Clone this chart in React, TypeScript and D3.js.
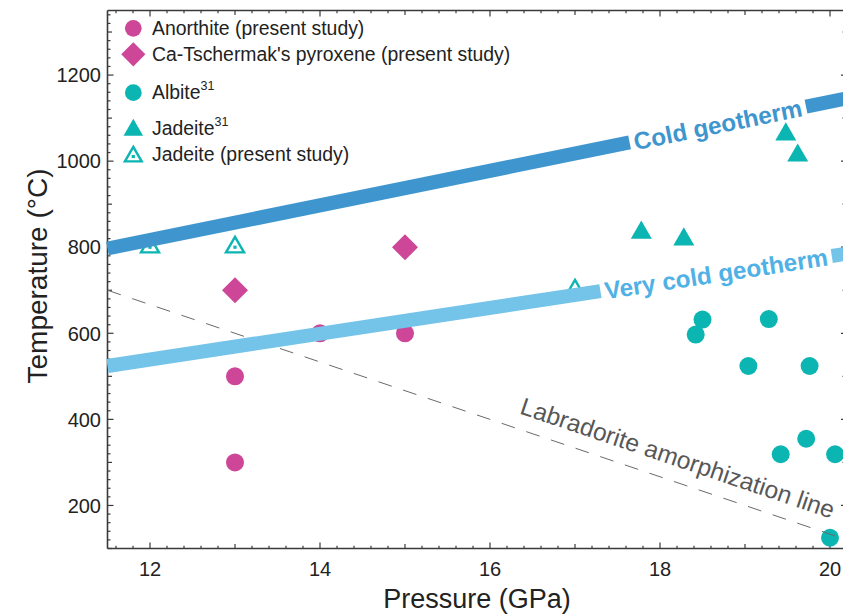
import React from "react";
import * as d3 from "d3";

// ---------- data ----------
const anorthite: [number, number][] = [[13, 300], [13, 500], [14, 600], [15, 600]];
const caTschermak: [number, number][] = [[13, 700], [15, 800]];
const albite: [number, number][] = [
  [18.5, 632], [18.42, 597], [19.28, 633], [19.04, 524], [19.76, 524],
  [19.72, 355], [19.42, 319], [20.06, 319], [20.0, 125],
];
const jadeite31: [number, number][] = [[17.78, 834], [18.28, 818], [19.48, 1062], [19.62, 1013]];
const jadeitePresent: [number, number][] = [[12, 800], [13, 800], [17, 700]];

const coldGeotherm: [number, number][] = [[11.5, 797], [20.2, 1146]];
const veryColdGeotherm: [number, number][] = [[11.5, 524], [20.2, 785]];
const labradoriteLine: [number, number][] = [[11.5, 700], [20.2, 120]];

const xTicks = [12, 14, 16, 18, 20];
const yTicks = [200, 400, 600, 800, 1000, 1200];

const legendItems = [
  { key: "anorthite", label: "Anorthite (present study)", sup: "" },
  { key: "cats", label: "Ca-Tschermak's pyroxene (present study)", sup: "" },
  { key: "albite", label: "Albite", sup: "31" },
  { key: "jad31", label: "Jadeite", sup: "31" },
  { key: "jadp", label: "Jadeite (present study)", sup: "" },
];

// ---------- style ----------
const W = 843, H = 614;
const MAGENTA = "#CD4698";
const TEAL = "#0BB5B1";
const COLD = "#3F96CE";
const VCOLD = "#74C4EA";
const VCOLD_TEXT = "#4FB1E5";
const AXIS = "#3a3a3a";
const FONT = "'Liberation Sans', Arial, Helvetica, sans-serif";

const x = d3.scaleLinear().domain([11.5, 20.2]).range([107.5, 847]);
const y = d3.scaleLinear().domain([100, 1350]).range([548.5, 10.5]);

const triPath = (side: number) => {
  const h = (side * Math.sqrt(3)) / 2;
  const p = d3.path();
  p.moveTo(0, (-2 * h) / 3);
  p.lineTo(side / 2, h / 3);
  p.lineTo(-side / 2, h / 3);
  p.closePath();
  return p.toString();
};
const diamondPath = (r: number) => {
  const p = d3.path();
  p.moveTo(0, -r);
  p.lineTo(r, 0);
  p.lineTo(0, r);
  p.lineTo(-r, 0);
  p.closePath();
  return p.toString();
};

function Marker({ kind, cx, cy, s = 1 }: { kind: string; cx: number; cy: number; s?: number }) {
  const t = `translate(${cx},${cy})`;
  if (kind === "anorthite") return <circle cx={cx} cy={cy} r={9 * s} fill={MAGENTA} />;
  if (kind === "albite") return <circle cx={cx} cy={cy} r={9 * s} fill={TEAL} />;
  if (kind === "cats") return <path transform={t} d={diamondPath(13 * s)} fill={MAGENTA} />;
  if (kind === "jad31") return <path transform={t} d={triPath(21 * s)} fill={TEAL} />;
  return (
    <g transform={t}>
      <path d={triPath(18 * s)} fill="white" stroke={TEAL} strokeWidth={2.4} strokeLinejoin="miter" />
      <rect x={-1.6} y={-1.6} width={3.2} height={3.2} fill={TEAL} />
    </g>
  );
}

function Band({ line, color, textColor, label, labelP, halfGap, width }: any) {
  const p0: [number, number] = [x(line[0][0]), y(line[0][1])];
  const p1: [number, number] = [x(line[1][0]), y(line[1][1])];
  const tAt = d3.scaleLinear().domain([line[0][0], line[1][0]]).range([line[0][1], line[1][1]]);
  const pc: [number, number] = [x(labelP), y(tAt(labelP))];
  const dx = p1[0] - p0[0], dy = p1[1] - p0[1];
  const len = Math.hypot(dx, dy);
  const ux = dx / len, uy = dy / len;
  const a = (Math.atan2(dy, dx) * 180) / Math.PI;
  const g1: [number, number] = [pc[0] - ux * halfGap, pc[1] - uy * halfGap];
  const g2: [number, number] = [pc[0] + ux * halfGap, pc[1] + uy * halfGap];
  const lg = d3.line();
  return (
    <g>
      <path d={lg([p0, g1]) as string} stroke={color} strokeWidth={width} fill="none" />
      <path d={lg([g2, p1]) as string} stroke={color} strokeWidth={width} fill="none" />
      <text
        transform={`translate(${pc[0]},${pc[1]}) rotate(${a})`}
        textAnchor="middle"
        dy="0.36em"
        fontFamily={FONT}
        fontWeight="bold"
        fontSize={24.3}
        fill={textColor}
      >
        {label}
      </text>
    </g>
  );
}

export default function App() {
  const xMinor = d3.range(116, 203, 2).map((v) => v / 10);
  const yMinor = d3.range(100, 1351, 20);
  const xLen = (v: number) => {
    const r = Math.round(v * 10);
    if (r % 20 === 0) return 6;
    if (r % 10 === 0) return 4.5;
    return 2.8;
  };
  const yLen = (v: number) => (v % 200 === 0 ? 6 : v % 100 === 0 ? 4.5 : 3);
  const [xl, xr] = x.range();
  const [yb, yt] = y.range();

  const lab0: [number, number] = [x(labradoriteLine[0][0]), y(labradoriteLine[0][1])];
  const lab1: [number, number] = [x(labradoriteLine[1][0]), y(labradoriteLine[1][1])];
  const labAngle = (Math.atan2(lab1[1] - lab0[1], lab1[0] - lab0[0]) * 180) / Math.PI;
  const labT = d3.scaleLinear().domain([labradoriteLine[0][0], labradoriteLine[1][0]]).range([labradoriteLine[0][1], labradoriteLine[1][1]]);
  const labP = 18.12;

  const legendY = [28.3, 54.3, 92.7, 130, 156.5];
  const legendBase = [34.5, 61, 99, 134.5, 160.7];

  return (
    <svg width={W} height={H} style={{ position: "absolute", left: 0, top: 0, display: "block", background: "white" }}>
      <rect width={W} height={H} fill="white" />
      {/* frame */}
      <g stroke={AXIS} fill="none">
        <line x1={xl} x2={xl} y1={yt} y2={yb} strokeWidth={1.6} />
        <line x1={xr} x2={xr} y1={yt} y2={yb} strokeWidth={1.6} />
        <line x1={xl} x2={xr} y1={yb} y2={yb} strokeWidth={1.6} />
        <line x1={xl} x2={xr} y1={yt} y2={yt} strokeWidth={1.6} />
        {xMinor.map((v) => (
          <g key={"x" + v} strokeWidth={1.2}>
            <line x1={x(v)} x2={x(v)} y1={yb} y2={yb - xLen(v)} />
            <line x1={x(v)} x2={x(v)} y1={yt} y2={yt + xLen(v)} />
          </g>
        ))}
        {yMinor.map((v) => (
          <g key={"y" + v} strokeWidth={1.2}>
            <line x1={xl} x2={xl + yLen(v)} y1={y(v)} y2={y(v)} />
            <line x1={xr} x2={xr - yLen(v)} y1={y(v)} y2={y(v)} />
          </g>
        ))}
      </g>
      {/* tick labels */}
      <g fontFamily={FONT} fontSize={20} fill="#222">
        {xTicks.map((v) => (
          <text key={v} x={x(v)} y={576} textAnchor="middle">{v}</text>
        ))}
        {yTicks.map((v) => (
          <text key={v} x={101} y={y(v) + 7.2} textAnchor="end">{v}</text>
        ))}
      </g>
      {/* axis titles */}
      <text x={477} y={608} textAnchor="middle" fontFamily={FONT} fontSize={27} fill="#222">Pressure (GPa)</text>
      <text transform="translate(47,276) rotate(-90)" textAnchor="middle" fontFamily={FONT} fontSize={28} fill="#222">Temperature (°C)</text>

      {/* points */}
      {anorthite.map((d, i) => <Marker key={"a" + i} kind="anorthite" cx={x(d[0])} cy={y(d[1])} />)}
      {caTschermak.map((d, i) => <Marker key={"c" + i} kind="cats" cx={x(d[0])} cy={y(d[1])} />)}
      {albite.map((d, i) => <Marker key={"b" + i} kind="albite" cx={x(d[0])} cy={y(d[1])} />)}
      {jadeite31.map((d, i) => <Marker key={"j" + i} kind="jad31" cx={x(d[0])} cy={y(d[1])} />)}
      {jadeitePresent.map((d, i) => <Marker key={"p" + i} kind="jadp" cx={x(d[0])} cy={y(d[1])} />)}

      {/* labradorite line */}
      <path d={d3.line()([lab0, lab1]) as string} stroke="#6a6a6a" strokeWidth={1} strokeDasharray="14,12" fill="none" />
      <text
        transform={`translate(${x(labP)},${y(labT(labP))}) rotate(${labAngle})`}
        y={-15}
        textAnchor="middle"
        fontFamily={FONT}
        fontSize={24.5}
        fill="#575757"
      >
        Labradorite amorphization line
      </text>

      {/* geotherms */}
      <Band line={coldGeotherm} color={COLD} textColor={COLD} label="Cold geotherm" labelP={18.68} halfGap={90} width={14} />
      <Band line={veryColdGeotherm} color={VCOLD} textColor={VCOLD_TEXT} label="Very cold geotherm" labelP={18.66} halfGap={117} width={14} />

      {/* legend */}
      {legendItems.map((it, i) => (
        <g key={it.key}>
          <Marker kind={it.key} cx={133.3} cy={legendY[i]} s={0.93} />
          <text x={152} y={legendBase[i]} fontFamily={FONT} fontSize={19.4} fill="#222">
            {it.label}
            {it.sup ? <tspan fontSize={12.5} dy={-9}>{it.sup}</tspan> : null}
          </text>
        </g>
      ))}
    </svg>
  );
}
